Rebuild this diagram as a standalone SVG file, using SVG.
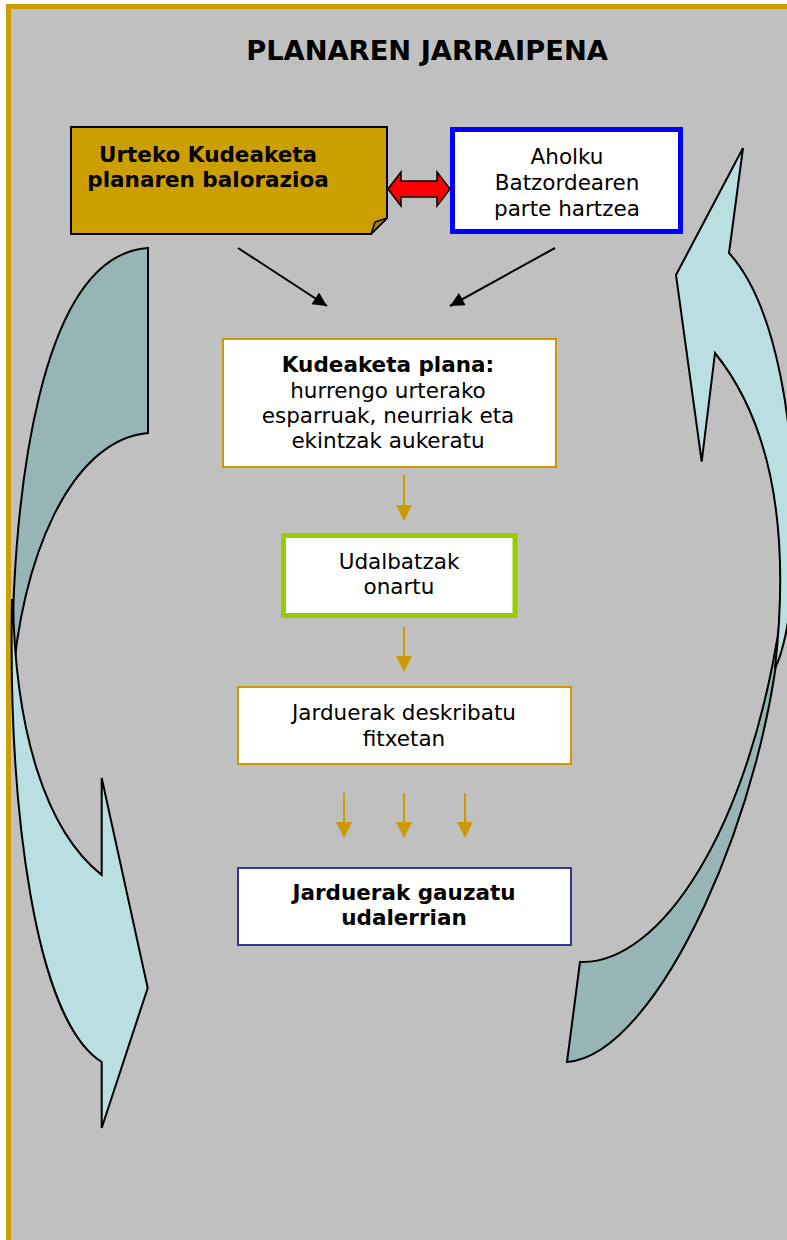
<svg xmlns="http://www.w3.org/2000/svg" width="787" height="1240" viewBox="0 0 787 1240">
<defs>
<style>
.t{font-family:"DejaVu Sans","Verdana","Liberation Sans",sans-serif;font-size:21.5px;fill:#000;text-anchor:middle}
.b{font-weight:bold}
.box{fill:#fff}
.gold{stroke:#CC9900;stroke-width:2}
.garrow{stroke:#CC9900;stroke-width:2;fill:none}
.ghead{fill:#CC9900}
.dark{fill:#97B4B6;stroke:#000;stroke-width:2}
.light{fill:#B9DFE3;stroke:#000;stroke-width:2}
</style>
<marker id="bk" viewBox="0 0 10 10" refX="10" refY="5" markerWidth="17" markerHeight="14" markerUnits="userSpaceOnUse" orient="auto">
<path d="M0,0 L10,5 L0,10 Z" fill="#000"/>
</marker>
</defs>
<rect x="0" y="0" width="787" height="1240" fill="#fff"/>
<rect x="8.5" y="6.5" width="800" height="1260" fill="#C0C0C0" stroke="#CC9F00" stroke-width="5"/>
<text x="427" y="60" class="t b" style="font-size:27.3px">PLANAREN JARRAIPENA</text>

<g id="left-curved-arrow">
<path class="dark" d="M148,248 L148,433 C70,440 20,560 12,690 C11,490 40,255 148,248 Z"/>
<path class="light" d="M12,600 C8,810 35,1020 101.7,1062 L101.7,1128 L147.7,988 L101.7,778 L101.7,875 C45,830 15,730 13,600 Z"/>
</g>
<g id="right-curved-arrow">
<path class="dark" d="M567,1062 L580,962 C660,965 750,830 781,615 C770,800 660,1055 567,1062 Z"/>
<path class="light" d="M743,148 L729,253 C772,300 802,420 792,590 C789,625 782,655 775,668 C786,570 785,440 715,353 L701.7,461.7 L676,275 Z"/>
</g>

<g id="urteko">
<path d="M71,127 L387,127 L387,218 L371,234 L71,234 Z" fill="#CC9F00" stroke="#000" stroke-width="2"/>
<path d="M371,234 L375,222 L387,218 Z" fill="#A88300" stroke="#000" stroke-width="1.5"/>
<text x="208" y="162" class="t b">Urteko Kudeaketa</text>
<text x="208" y="187" class="t b">planaren balorazioa</text>
</g>
<g id="aholku">
<rect x="452.5" y="129.5" width="228" height="102" class="box" stroke="#0000FF" stroke-width="5"/>
<text x="567" y="164" class="t">Aholku</text>
<text x="567" y="190" class="t">Batzordearen</text>
<text x="567" y="216" class="t">parte hartzea</text>
</g>
<g id="kudeaketa">
<rect x="223" y="339" width="333" height="128" class="box gold"/>
<text x="388" y="372" class="t b">Kudeaketa plana:</text>
<text x="388" y="398" class="t">hurrengo urterako</text>
<text x="388" y="423" class="t">esparruak, neurriak eta</text>
<text x="388" y="448" class="t">ekintzak aukeratu</text>
</g>
<g id="udalbatzak">
<rect x="283.5" y="535.5" width="231.5" height="80" class="box" stroke="#99CC00" stroke-width="5"/>
<text x="399" y="569" class="t">Udalbatzak</text>
<text x="399" y="594" class="t">onartu</text>
</g>
<g id="deskribatu">
<rect x="238" y="687" width="333" height="77" class="box gold"/>
<text x="404" y="720" class="t">Jarduerak deskribatu</text>
<text x="404" y="746" class="t">fitxetan</text>
</g>
<g id="gauzatu">
<rect x="238" y="868" width="333" height="77" class="box" stroke="#333399" stroke-width="2"/>
<text x="404" y="900" class="t b">Jarduerak gauzatu</text>
<text x="404" y="925" class="t b">udalerrian</text>
</g>

<g id="connectors">
<path d="M388,189 L401,172 L401,181 L437,181 L437,172 L450,189 L437,206 L437,197 L401,197 L401,206 Z" fill="#FF0000" stroke="#000" stroke-width="1.5"/>
<line x1="238" y1="248" x2="327" y2="306" stroke="#000" stroke-width="2" marker-end="url(#bk)"/>
<line x1="555" y1="248" x2="450" y2="306" stroke="#000" stroke-width="2" marker-end="url(#bk)"/>
<line x1="404" y1="475" x2="404" y2="507" class="garrow"/>
<path d="M396,505 L412,505 L404,521 Z" class="ghead"/>
<line x1="404" y1="627" x2="404" y2="658" class="garrow"/>
<path d="M396,656 L412,656 L404,672 Z" class="ghead"/>
<line x1="344" y1="793" x2="344" y2="824" class="garrow"/>
<path d="M336,822 L352,822 L344,838 Z" class="ghead"/>
<line x1="404" y1="793" x2="404" y2="824" class="garrow"/>
<path d="M396,822 L412,822 L404,838 Z" class="ghead"/>
<line x1="465" y1="793" x2="465" y2="824" class="garrow"/>
<path d="M457,822 L473,822 L465,838 Z" class="ghead"/>
</g>
</svg>
